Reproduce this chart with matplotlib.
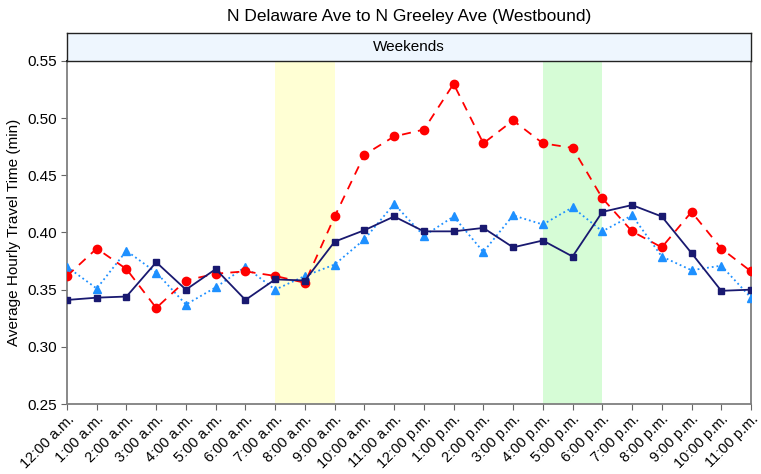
import matplotlib
matplotlib.use("Agg")
import matplotlib.pyplot as plt

plt.rcParams['font.family'] = ['Liberation Sans', 'DejaVu Sans']

hours = ['12:00 a.m.', '1:00 a.m.', '2:00 a.m.', '3:00 a.m.', '4:00 a.m.', '5:00 a.m.',
         '6:00 a.m.', '7:00 a.m.', '8:00 a.m.', '9:00 a.m.', '10:00 a.m.', '11:00 a.m.',
         '12:00 p.m.', '1:00 p.m.', '2:00 p.m.', '3:00 p.m.', '4:00 p.m.', '5:00 p.m.',
         '6:00 p.m.', '7:00 p.m.', '8:00 p.m.', '9:00 p.m.', '10:00 p.m.', '11:00 p.m.']

navy = [0.341, 0.343, 0.344, 0.374, 0.350, 0.368, 0.341, 0.359, 0.358, 0.392, 0.402, 0.414,
        0.401, 0.401, 0.404, 0.387, 0.393, 0.379, 0.418, 0.424, 0.414, 0.382, 0.349, 0.350]
red = [0.362, 0.386, 0.368, 0.334, 0.358, 0.364, 0.366, 0.362, 0.356, 0.414, 0.468, 0.484,
       0.490, 0.530, 0.478, 0.498, 0.478, 0.474, 0.430, 0.401, 0.387, 0.418, 0.386, 0.366]
blue = [0.370, 0.351, 0.384, 0.365, 0.337, 0.352, 0.370, 0.350, 0.362, 0.372, 0.394, 0.425,
        0.397, 0.414, 0.383, 0.415, 0.407, 0.422, 0.401, 0.415, 0.379, 0.367, 0.371, 0.343]

am_peak = (7, 9)
pm_peak = (16, 18)

fig = plt.figure(figsize=(7.61, 4.74), dpi=100)
ax = fig.add_axes([67/761, 1 - 404/474, (751 - 67)/761, (404 - 61)/474])

x = list(range(len(hours)))
ax.axvspan(*am_peak, color='#FFFFD4', zorder=0, lw=0)
ax.axvspan(*pm_peak, color='#D6FCD6', zorder=0, lw=0)

ax.plot(x, blue, ls=':', color='#1E90FF', marker='^', ms=6, lw=1.3, zorder=3)
ax.plot(x, red, ls=(0, (5, 4)), color='#FF0000', marker='o', ms=6, lw=1.3, zorder=4)
ax.plot(x, navy, ls='-', color='#191970', marker='s', ms=5, lw=1.3, zorder=5)

ax.set_xlim(0, 23)
ax.set_ylim(0.25, 0.55)
ax.set_yticks([0.25, 0.30, 0.35, 0.40, 0.45, 0.50, 0.55])
ax.set_yticklabels(['0.25', '0.30', '0.35', '0.40', '0.45', '0.50', '0.55'])
ax.set_xticks(x)
ax.set_xticklabels(hours, rotation=45, ha='right', rotation_mode='anchor')
ax.tick_params(axis='both', labelcolor='black', labelsize=11, length=4, color='#666666')
ax.tick_params(axis='x', labelsize=10.5, pad=2)
ax.set_ylabel('Average Hourly Travel Time (min)', fontsize=11)

for s in ['left', 'right', 'bottom']:
    ax.spines[s].set_color('#7f7f7f')
    ax.spines[s].set_linewidth(1.3)
ax.spines['top'].set_color('black')
ax.spines['top'].set_linewidth(1.2)

# facet strip
strip = fig.add_axes([67/761, 1 - 61/474, (751 - 67)/761, 28/474])
strip.set_facecolor('#EEF6FE')
strip.set_xticks([])
strip.set_yticks([])
for s in strip.spines.values():
    s.set_color('#222222')
    s.set_linewidth(1.0)
strip.text(0.5, 0.5, 'Weekends', ha='center', va='center', fontsize=11, transform=strip.transAxes)

fig.text(409/761, 1 - 16/474, 'N Delaware Ave to N Greeley Ave (Westbound)',
         ha='center', va='center', fontsize=12.5)

fig.savefig('out.png', dpi=100)
